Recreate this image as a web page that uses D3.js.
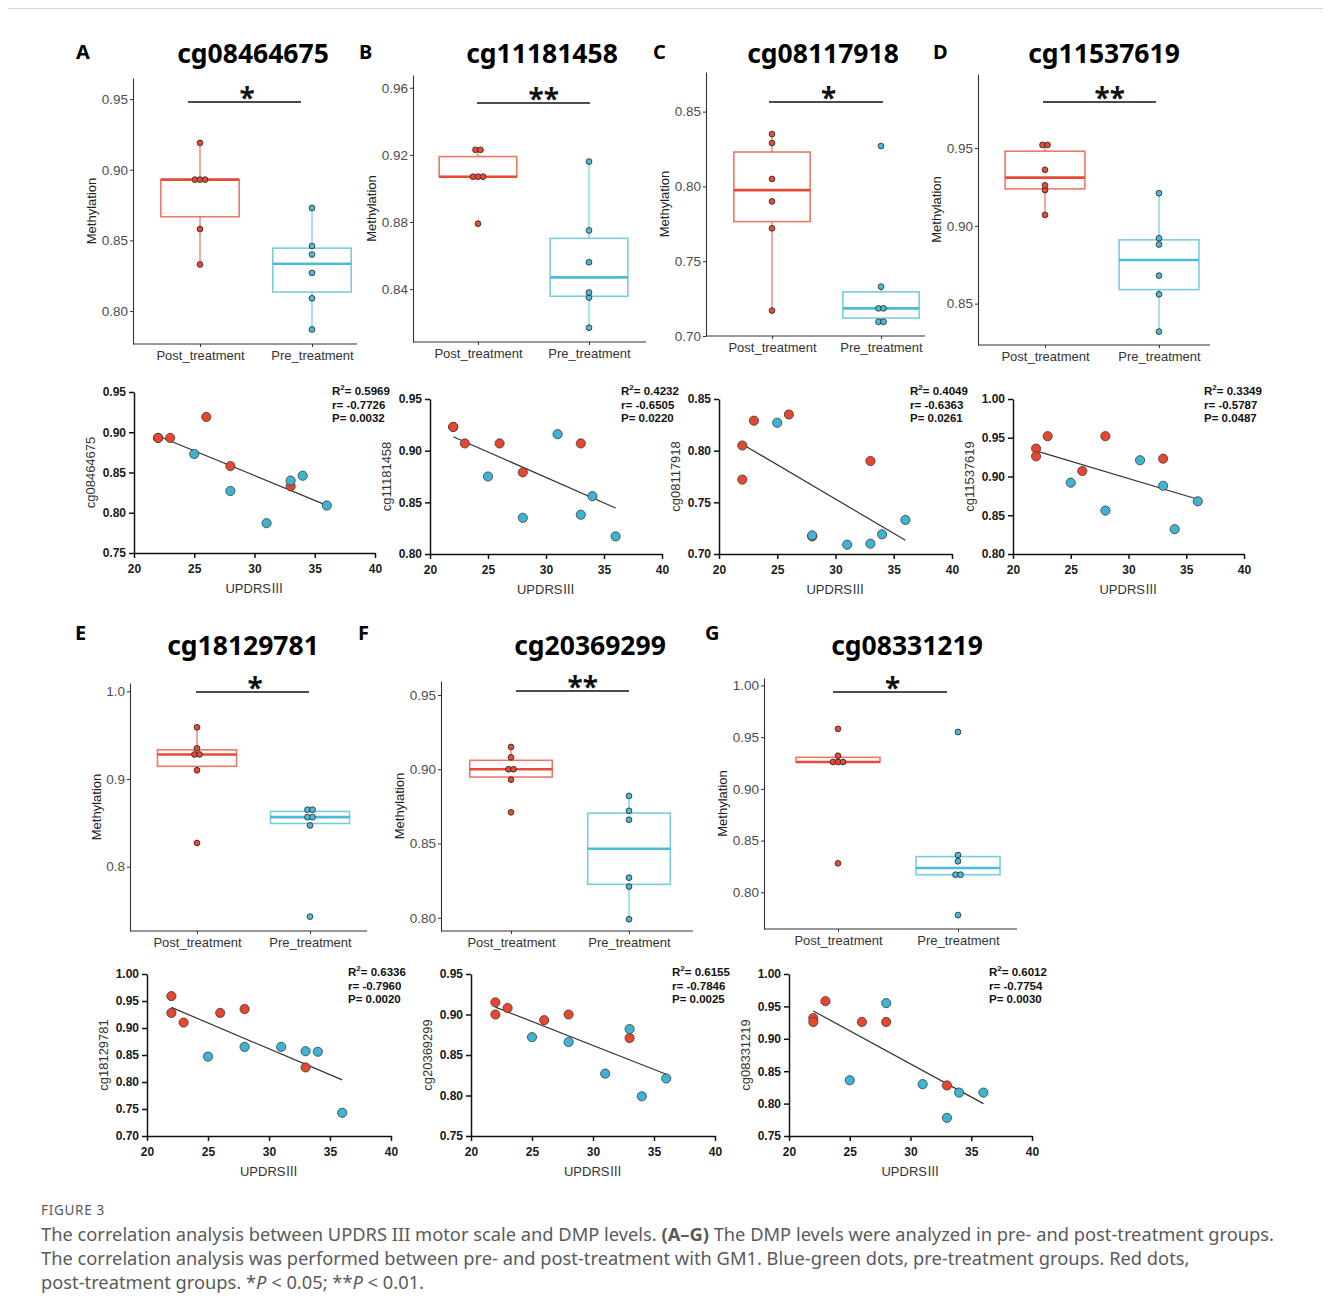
<!DOCTYPE html>
<html>
<head>
<meta charset="utf-8">
<script src="https://cdn.jsdelivr.net/npm/d3@7"></script>
<style>
  body { margin: 0; background: #fff; }
</style>
</head>
<body>
<svg id="fig"></svg>
<script>
//_____________________________________________________________________________
// Données

const groups = ["Post_treatment", "Pre_treatment"];
const panelLetters = ["A", "B", "C", "D", "E", "F", "G"];
const cpgNames = ["cg08464675", "cg11181458", "cg08117918", "cg11537619", "cg18129781", "cg20369299", "cg08331219"];

// score UPDRS III de chaque patient (même ordre que les valeurs)
const postUPDRS = [22, 22, 23, 26, 28, 33];
const preUPDRS = [25, 28, 31, 33, 34, 36];

// méthylation post / pré traitement
const post_cg08464675 = [0.893, 0.893, 0.893, 0.919, 0.858, 0.833];
const pre_cg08464675  = [0.873, 0.827, 0.787, 0.840, 0.846, 0.809];
const post_cg11181458 = [0.923, 0.923, 0.907, 0.907, 0.879, 0.907];
const pre_cg11181458  = [0.875, 0.835, 0.916, 0.838, 0.856, 0.817];
const post_cg08117918 = [0.805, 0.772, 0.829, 0.835, 0.717, 0.790];
const pre_cg08117918  = [0.827, 0.718, 0.709, 0.710, 0.719, 0.733];
const post_cg11537619 = [0.936, 0.926, 0.952, 0.907, 0.952, 0.923];
const pre_cg11537619  = [0.892, 0.856, 0.921, 0.888, 0.832, 0.868];
const post_cg18129781 = [0.959, 0.928, 0.910, 0.928, 0.935, 0.827];
const pre_cg18129781  = [0.847, 0.865, 0.865, 0.857, 0.856, 0.743];
const post_cg20369299 = [0.915, 0.900, 0.908, 0.893, 0.900, 0.871];
const pre_cg20369299  = [0.872, 0.866, 0.827, 0.882, 0.799, 0.821];
const post_cg08331219 = [0.932, 0.926, 0.958, 0.926, 0.926, 0.828];
const pre_cg08331219  = [0.836, 0.955, 0.830, 0.778, 0.817, 0.817];

// statistiques affichées
const r2Text = ["0.5969", "0.4232", "0.4049", "0.3349", "0.6336", "0.6155", "0.6012"];
const rText  = ["-0.7726", "-0.6505", "-0.6363", "-0.5787", "-0.7960", "-0.7846", "-0.7754"];
const pText  = ["0.0032", "0.0220", "0.0261", "0.0487", "0.0020", "0.0025", "0.0030"];
const sigMarks = ["*", "**", "*", "**", "*", "**", "*"];

// graduations
const boxTicks = [
  [0.80, 0.85, 0.90, 0.95],
  [0.84, 0.88, 0.92, 0.96],
  [0.70, 0.75, 0.80, 0.85],
  [0.85, 0.90, 0.95],
  [0.8, 0.9, 1.0],
  [0.80, 0.85, 0.90, 0.95],
  [0.80, 0.85, 0.90, 0.95, 1.00]
];
const boxTickFormat = [".2f", ".2f", ".2f", ".2f", ".1f", ".2f", ".2f"];
const scatYTicks = [
  [0.75, 0.80, 0.85, 0.90, 0.95],
  [0.80, 0.85, 0.90, 0.95],
  [0.70, 0.75, 0.80, 0.85],
  [0.80, 0.85, 0.90, 0.95, 1.00],
  [0.70, 0.75, 0.80, 0.85, 0.90, 0.95, 1.00],
  [0.75, 0.80, 0.85, 0.90, 0.95],
  [0.75, 0.80, 0.85, 0.90, 0.95, 1.00]
];
const scatXTicks = [20, 25, 30, 35, 40];

const postValues = [post_cg08464675, post_cg11181458, post_cg08117918, post_cg11537619, post_cg18129781, post_cg20369299, post_cg08331219];
const preValues  = [pre_cg08464675, pre_cg11181458, pre_cg08117918, pre_cg11537619, pre_cg18129781, pre_cg20369299, pre_cg08331219];

//_____________________________________________________________________________
// Mise en page (pixels)

const boxLayout = [
  {left: 133, right: 357,  top: 78,  bottom: 344, post: 200, pre: 312, lo: 0.7767, hi: 0.9649, sigY: 102, sigX: [188, 301]},
  {left: 413, right: 646,  top: 75,  bottom: 342, post: 478, pre: 589, lo: 0.8085, hi: 0.9676, sigY: 103, sigX: [477, 590]},
  {left: 706, right: 925,  top: 72,  bottom: 336, post: 772, pre: 881, lo: 0.7000, hi: 0.8765, sigY: 102, sigX: [769, 883]},
  {left: 978, right: 1210, top: 74,  bottom: 345, post: 1045, pre: 1159, lo: 0.8234, hi: 0.9976, sigY: 102, sigX: [1043, 1156]},
  {left: 130, right: 367,  top: 683, bottom: 931, post: 197, pre: 310, lo: 0.7266, hi: 1.0095, sigY: 692, sigX: [196, 309]},
  {left: 441, right: 693,  top: 681, bottom: 931, post: 511, pre: 629, lo: 0.7911, hi: 0.9594, sigY: 691, sigX: [516, 629]},
  {left: 764, right: 1017, top: 678, bottom: 929, post: 838, pre: 958, lo: 0.7645, hi: 1.0072, sigY: 692, sigX: [833, 947]}
];

const scatLayout = [
  {x0: 134,  x1: 375,  y0: 553,  y1: 392, statX: 332, statY: 395},
  {x0: 430,  x1: 662,  y0: 554,  y1: 399, statX: 621, statY: 395},
  {x0: 719,  x1: 952,  y0: 554,  y1: 399, statX: 910, statY: 395},
  {x0: 1013, x1: 1244, y0: 554,  y1: 399, statX: 1204, statY: 395},
  {x0: 147,  x1: 391,  y0: 1136, y1: 974, statX: 348, statY: 976},
  {x0: 471,  x1: 715,  y0: 1136, y1: 974, statX: 672, statY: 976},
  {x0: 789,  x1: 1032, y0: 1136, y1: 974, statX: 989, statY: 976}
];

const titleLayout = [
  {x: 253, y: 63, lx: 76, ly: 59},
  {x: 542, y: 63, lx: 359, ly: 59},
  {x: 823, y: 63, lx: 653, ly: 59},
  {x: 1104, y: 63, lx: 933, ly: 59},
  {x: 243, y: 655, lx: 75, ly: 640},
  {x: 590, y: 655, lx: 358, ly: 640},
  {x: 907, y: 655, lx: 705, ly: 640}
];

const red = "#E64B35", blue = "#4DBBD5";     // boxplots
const scRed = "#E8472F", scBlue = "#3CB4D2"; // nuages de points
const sans = "'Liberation Sans', Arial, sans-serif";

/////////////////////////////////////////////////////////

const svg = d3.select("#fig")
  .attr("width", 1331)
  .attr("height", 1313)
  .style("font-family", sans);

svg.append("rect").attr("width", 1331).attr("height", 1313).attr("fill", "#fff");
svg.append("line")
  .attr("x1", 8).attr("x2", 1323).attr("y1", 8.5).attr("y2", 8.5)
  .attr("stroke", "#d4d4d4").attr("stroke-width", 1);

/////////////////////////////////////////////////////////
// Boxplots

function boxPanel(i) {
  const L = boxLayout[i];
  const g = svg.append("g");

  const x = d3.scalePoint().domain(groups).range([L.post, L.pre]);
  const y = d3.scaleLinear().domain([L.lo, L.hi]).range([L.bottom, L.top]);
  const bw = (L.pre - L.post) * 0.7;

  const series = [
    {grp: groups[0], vals: postValues[i], col: red},
    {grp: groups[1], vals: preValues[i], col: blue}
  ];

  series.forEach(s => {
    const v = s.vals.slice().sort(d3.ascending);
    const q1 = d3.quantile(v, 0.25), med = d3.quantile(v, 0.5), q3 = d3.quantile(v, 0.75);
    const iqr = q3 - q1;
    const wLo = d3.min(v.filter(d => d >= q1 - 1.5 * iqr));
    const wHi = d3.max(v.filter(d => d <= q3 + 1.5 * iqr));
    const cx = x(s.grp);

    // moustaches
    [[q3, wHi], [q1, wLo]].forEach(w => {
      g.append("line")
        .attr("x1", cx).attr("x2", cx)
        .attr("y1", y(w[0])).attr("y2", y(w[1]))
        .attr("stroke", s.col).attr("stroke-opacity", 0.8).attr("stroke-width", 1.2);
    });

    // boite
    g.append("rect")
      .attr("x", cx - bw / 2).attr("y", y(q3))
      .attr("width", bw).attr("height", y(q1) - y(q3))
      .attr("fill", "none")
      .attr("stroke", s.col).attr("stroke-opacity", 0.75).attr("stroke-width", 1.6);

    // médiane
    g.append("line")
      .attr("x1", cx - bw / 2).attr("x2", cx + bw / 2)
      .attr("y1", y(med)).attr("y2", y(med))
      .attr("stroke", s.col).attr("stroke-width", 2.6);

    // points empilés (dotplot)
    const bins = [];
    v.forEach(d => {
      const b = bins[bins.length - 1];
      if (b && d - b[0] < 0.0015) b.push(d); else bins.push([d]);
    });
    const pts = bins.flatMap(b => b.map((d, k) => ({v: d3.mean(b), k: k, n: b.length})));

    g.selectAll(null)
      .data(pts)
      .join("circle")
        .attr("cx", d => cx + (d.k - (d.n - 1) / 2) * 5)
        .attr("cy", d => y(d.v))
        .attr("r", 2.9)
        .attr("fill", s.col)
        .attr("stroke", "#222")
        .attr("stroke-width", 0.8);
  });

  // axe Y
  const ay = g.append("g")
    .attr("transform", `translate(${L.left},0)`)
    .call(d3.axisLeft(y).tickValues(boxTicks[i]).tickFormat(d3.format(boxTickFormat[i]))
      .tickSize(3).tickSizeOuter(0).tickPadding(2));
  ay.select(".domain").attr("stroke", "#333").attr("stroke-width", 1.1);
  ay.selectAll(".tick line").attr("stroke", "#333");
  ay.selectAll("text").attr("font-size", 13.5).attr("fill", "#4d4d4d").attr("font-family", sans);

  // axe X
  const ax = g.append("g")
    .attr("transform", `translate(0,${L.bottom})`)
    .call(d3.axisBottom(x).tickSize(3).tickSizeOuter(0).tickPadding(4));
  ax.select(".domain").remove();
  ax.selectAll(".tick line").attr("stroke", "#333");
  ax.selectAll("text").attr("font-size", 13).attr("fill", "#333").attr("font-family", sans);
  g.append("line")
    .attr("x1", L.left).attr("x2", L.right)
    .attr("y1", L.bottom).attr("y2", L.bottom)
    .attr("stroke", "#333").attr("stroke-width", 1.1);

  // titre Y
  const bb = ay.node().getBBox();
  g.append("text")
    .attr("transform", `translate(${L.left + bb.x - 10},${(L.top + L.bottom) / 2}) rotate(-90)`)
    .attr("text-anchor", "middle").attr("dy", "0.35em")
    .attr("font-size", 13).attr("fill", "#222")
    .text("Methylation");

  // barre de significativité
  g.append("line")
    .attr("x1", L.sigX[0]).attr("x2", L.sigX[1])
    .attr("y1", L.sigY).attr("y2", L.sigY)
    .attr("stroke", "#111").attr("stroke-width", 1.6);
  g.append("text")
    .attr("x", (L.sigX[0] + L.sigX[1]) / 2 - 5)
    .attr("y", L.sigY + 6)
    .attr("font-family", "'Noto Sans', sans-serif")
    .attr("font-weight", "bold").attr("font-size", 28).attr("fill", "#111")
    .text(sigMarks[i]);

  // titres
  const T = titleLayout[i];
  g.append("text")
    .attr("x", T.x).attr("y", T.y).attr("text-anchor", "middle")
    .attr("font-family", "'Noto Sans', sans-serif")
    .attr("font-weight", "bold").attr("font-size", 26.5).attr("fill", "#000")
    .text(cpgNames[i]);
  g.append("text")
    .attr("x", T.lx).attr("y", T.ly)
    .attr("font-family", "'Noto Sans', sans-serif")
    .attr("font-weight", "bold").attr("font-size", 20).attr("fill", "#000")
    .text(panelLetters[i]);
}

/////////////////////////////////////////////////////////
// Nuages de points + régression

function scatterPanel(i) {
  const L = scatLayout[i];
  const g = svg.append("g");

  const x = d3.scaleLinear().domain(d3.extent(scatXTicks)).range([L.x0, L.x1]);
  const y = d3.scaleLinear().domain(d3.extent(scatYTicks[i])).range([L.y0, L.y1]);

  const ay = g.append("g")
    .attr("transform", `translate(${L.x0},0)`)
    .call(d3.axisLeft(y).tickValues(scatYTicks[i]).tickFormat(d3.format(".2f"))
      .tickSize(5).tickSizeOuter(0).tickPadding(3));
  const ax = g.append("g")
    .attr("transform", `translate(0,${L.y0})`)
    .call(d3.axisBottom(x).tickValues(scatXTicks).tickSize(5).tickSizeOuter(0).tickPadding(6));
  [ay, ax].forEach(a => {
    a.select(".domain").attr("stroke", "#111").attr("stroke-width", 1.5);
    a.selectAll(".tick line").attr("stroke", "#111").attr("stroke-width", 1.5);
    a.selectAll("text").attr("font-size", 12).attr("font-weight", "bold")
      .attr("fill", "#1a1a1a").attr("font-family", sans);
  });

  const bb = ay.node().getBBox();
  g.append("text")
    .attr("transform", `translate(${L.x0 + bb.x - 12},${(L.y0 + L.y1) / 2}) rotate(-90)`)
    .attr("text-anchor", "middle").attr("dy", "0.35em")
    .attr("font-size", 13).attr("fill", "#333")
    .text(cpgNames[i]);
  const xl = g.append("text")
    .attr("x", (L.x0 + L.x1) / 2).attr("y", L.y0 + 40)
    .attr("text-anchor", "middle")
    .attr("font-size", 13).attr("fill", "#333");
  xl.append("tspan").text("UPDRS");
  xl.append("tspan").attr("font-family", "'Noto Sans CJK SC', sans-serif").attr("font-size", 12.5).text("Ⅲ");

  // droite des moindres carrés
  const xs = postUPDRS.concat(preUPDRS);
  const ys = postValues[i].concat(preValues[i]);
  const mx = d3.mean(xs), my = d3.mean(ys);
  const slope = d3.sum(xs, (d, k) => (d - mx) * (ys[k] - my)) / d3.sum(xs, d => (d - mx) * (d - mx));
  const icpt = my - slope * mx;
  const [xa, xb] = d3.extent(xs);
  g.append("line")
    .attr("x1", x(xa)).attr("y1", y(icpt + slope * xa))
    .attr("x2", x(xb)).attr("y2", y(icpt + slope * xb))
    .attr("stroke", "#333").attr("stroke-width", 1.2);

  const pts = postUPDRS.map((u, k) => ({u: u, v: postValues[i][k], col: scRed}))
    .concat(preUPDRS.map((u, k) => ({u: u, v: preValues[i][k], col: scBlue})));
  g.selectAll(null)
    .data(pts)
    .join("circle")
      .attr("cx", d => x(d.u))
      .attr("cy", d => y(d.v))
      .attr("r", 4.6)
      .attr("fill", d => d.col)
      .attr("stroke", "#3a3a3a")
      .attr("stroke-width", 0.8);

  // stats
  const st = g.append("g").attr("font-size", 11.5).attr("font-weight", "bold").attr("fill", "#111");
  const t1 = st.append("text").attr("x", L.statX).attr("y", L.statY);
  t1.append("tspan").text("R");
  t1.append("tspan").attr("font-size", 8).attr("dy", -5).text("2");
  t1.append("tspan").attr("dy", 5).text("= " + r2Text[i]);
  st.append("text").attr("x", L.statX).attr("y", L.statY + 13.5).text("r= " + rText[i]);
  st.append("text").attr("x", L.statX).attr("y", L.statY + 27).text("P= " + pText[i]);
}

d3.range(7).forEach(i => { boxPanel(i); scatterPanel(i); });

/////////////////////////////////////////////////////////
// Légende de la figure

const cap = svg.append("g")
  .attr("font-family", "'Noto Sans', 'Open Sans', sans-serif")
  .attr("fill", "#5a5a5a");

cap.append("text")
  .attr("x", 41).attr("y", 1215)
  .attr("font-size", 13.5).attr("letter-spacing", 0.7)
  .text("FIGURE 3");

const c1 = cap.append("text").attr("x", 41).attr("y", 1241).attr("font-size", 18.3);
c1.append("tspan").text("The correlation analysis between UPDRS III motor scale and DMP levels. ");
c1.append("tspan").attr("font-weight", "bold").text("(A–G)");
c1.append("tspan").text(" The DMP levels were analyzed in pre- and post-treatment groups.");

cap.append("text").attr("x", 41).attr("y", 1265).attr("font-size", 18.3)
  .text("The correlation analysis was performed between pre- and post-treatment with GM1. Blue-green dots, pre-treatment groups. Red dots,");

const c3 = cap.append("text").attr("x", 41).attr("y", 1289).attr("font-size", 18.3);
c3.append("tspan").text("post-treatment groups. *");
c3.append("tspan").attr("font-style", "italic").text("P");
c3.append("tspan").text(" < 0.05; **");
c3.append("tspan").attr("font-style", "italic").text("P");
c3.append("tspan").text(" < 0.01.");
</script>
</body>
</html>
